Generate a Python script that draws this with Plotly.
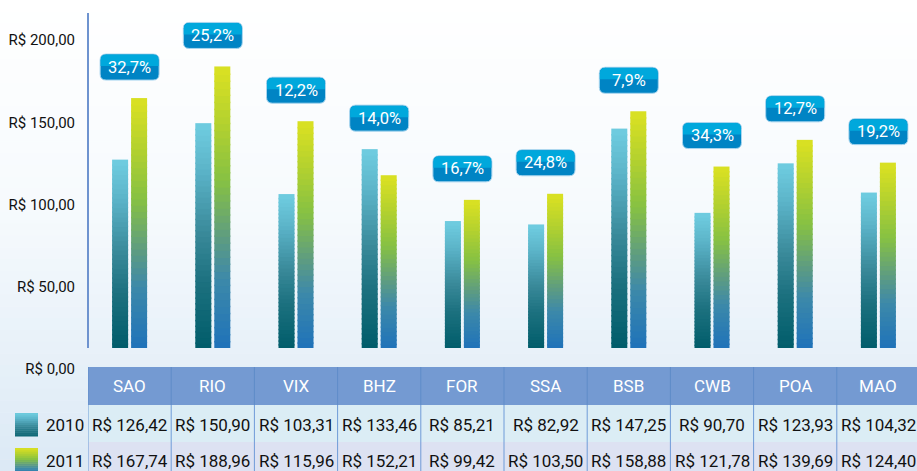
import plotly.graph_objects as go

# ---------------- data ----------------
categories = ["SAO", "RIO", "VIX", "BHZ", "FOR", "SSA", "BSB", "CWB", "POA", "MAO"]
years = ["2010", "2011"]
values_2010 = [126.42, 150.90, 103.31, 133.46, 85.21, 82.92, 147.25, 90.70, 123.93, 104.32]
values_2011 = [167.74, 188.96, 115.96, 152.21, 99.42, 103.50, 158.88, 121.78, 139.69, 124.40]
# bar heights as drawn in the reference picture (VIX / BHZ 2011 bars appear swapped there)
bars_2010 = [126.42, 150.90, 103.31, 133.46, 85.21, 82.92, 147.25, 90.70, 123.93, 104.32]
bars_2011 = [167.74, 188.96, 152.21, 115.96, 99.42, 103.50, 158.88, 121.78, 139.69, 124.40]
growth_labels = ["32,7%", "25,2%", "12,2%", "14,0%", "16,7%", "24,8%", "7,9%", "34,3%", "12,7%", "19,2%"]
ytick_values = [0, 50, 100, 150, 200]
ytick_labels = ["R$ 0,00", "R$ 50,00", "R$ 100,00", "R$ 150,00", "R$ 200,00"]

# ---------------- geometry / style ----------------
W, H = 917, 471
L, T, PB = 88, 13, 369          # plot area left, top, bottom (px)
BASE = 348                      # pixel row of bar baseline
BAR_PPU = 1.49                  # px per unit for bars
TICK_PPU = 329 / 200            # px per unit for tick labels
CAT_W = 83.2                    # px per category

FONT = "Roboto, Liberation Sans, sans-serif"

def py(p):
    return (PB - p) / (PB - T)

def px(p):
    return (p - L) / (W - L)

def hex2rgb(h):
    h = h.lstrip("#")
    return tuple(int(h[i:i + 2], 16) for i in (0, 2, 4))

def grad(stops, t):
    for (t0, c0), (t1, c1) in zip(stops, stops[1:]):
        if t <= t1:
            f = (t - t0) / (t1 - t0) if t1 > t0 else 0
            a, b = hex2rgb(c0), hex2rgb(c1)
            return "rgb(%d,%d,%d)" % tuple(round(a[i] + (b[i] - a[i]) * f) for i in range(3))
    return "rgb(%d,%d,%d)" % hex2rgb(stops[-1][1])

stops_2010 = [(0, "#005c6a"), (0.3, "#1c717f"), (0.52, "#3a8a9a"), (0.8, "#5cb4c9"), (1, "#6fcde0")]
stops_2011 = [(0, "#1e72ba"), (0.25, "#3d89a9"), (0.4, "#5f9d80"), (0.6, "#86c143"), (0.8, "#b3d12f"), (1, "#dbe122")]

fig = go.Figure()

# gradient bars drawn as stacked slices of each bar (each slice overlaps the one below by ~1.5px)
N = 40
OVL = 1.5 / BAR_PPU
bar_w = 16 / CAT_W
for bars, stops, off in [(bars_2010, stops_2010, -17.5 / CAT_W), (bars_2011, stops_2011, 1.5 / CAT_W)]:
    for k in range(N):
        ext = 0 if k == 0 else OVL
        fig.add_trace(go.Bar(
            x=categories,
            y=[v / N + ext for v in bars],
            base=[v * k / N - ext for v in bars],
            width=bar_w, offset=off,
            marker=dict(color=grad(stops, (k + 0.5) / N), line=dict(width=0)),
            showlegend=False, hoverinfo="skip",
        ))

# empty trace to carry the tick-label axis
fig.add_trace(go.Scatter(x=[], y=[], yaxis="y2", showlegend=False))

shapes = []
# page background gradient
NB = 40
for i in range(NB):
    p0, p1 = H * i / NB, H * (i + 1) / NB + 0.5
    shapes.append(dict(type="rect", xref="paper", yref="paper", layer="below",
                       x0=px(0), x1=px(W), y0=py(p1), y1=py(p0), line=dict(width=0),
                       fillcolor=grad([(0, "#ffffff"), (0.45, "#f6fafd"), (1, "#dbe9f5")], (i + 0.5) / NB)))

# axis line
shapes.append(dict(type="line", xref="paper", yref="paper", x0=0, x1=0, y0=py(BASE), y1=py(T),
                   line=dict(color="#6e93cf", width=2)))

# table
x_lo, x_hi = -0.5, len(categories) - 0.5
shapes.append(dict(type="rect", xref="x", yref="paper", x0=x_lo, x1=x_hi, y0=py(405), y1=py(367),
                   fillcolor="#749ad2", line=dict(width=0)))
shapes.append(dict(type="rect", xref="x", yref="paper", x0=x_lo, x1=x_hi, y0=py(442), y1=py(405),
                   fillcolor="#dbedf5", line=dict(width=0)))
shapes.append(dict(type="rect", xref="x", yref="paper", x0=x_lo, x1=x_hi, y0=py(H + 2), y1=py(442),
                   fillcolor="#dde2f2", line=dict(width=0)))
for i in range(len(categories) + 1):
    shapes.append(dict(type="line", xref="x", yref="paper", x0=i - 0.5, x1=i - 0.5, y0=py(405), y1=py(367),
                       line=dict(color="#5f8cc9", width=1)))
    shapes.append(dict(type="line", xref="x", yref="paper", x0=i - 0.5, x1=i - 0.5, y0=py(H + 2), y1=py(405),
                       line=dict(color="#6f9bd8", width=1)))

# legend squares
for yr, stops, (t0, t1) in [("2010", stops_2010, (413, 436)), ("2011", stops_2011, (448, 471))]:
    NS = 12
    for k in range(NS):
        a = t1 - (t1 - t0) * k / NS
        b = t1 - (t1 - t0) * (k + 1) / NS
        shapes.append(dict(type="rect", xref="paper", yref="paper", x0=px(15), x1=px(38),
                           y0=py(a + 0.5), y1=py(b), line=dict(width=0),
                           fillcolor=grad(stops, 0.15 + 0.85 * (k + 0.5) / NS)))

# growth label boxes
def rrect(x0, x1, y0, y1, r):
    return (f"M{x0 + r},{y0} L{x1 - r},{y0} Q{x1},{y0} {x1},{y0 + r} L{x1},{y1 - r} Q{x1},{y1} {x1 - r},{y1} "
            f"L{x0 + r},{y1} Q{x0},{y1} {x0},{y1 - r} L{x0},{y0 + r} Q{x0},{y0} {x0 + r},{y0} Z")

def rtop(x0, x1, ym, y1, r):
    return f"M{x0},{ym} L{x1},{ym} L{x1},{y1 - r} Q{x1},{y1} {x1 - r},{y1} L{x0 + r},{y1} Q{x0},{y1} {x0},{y1 - r} Z"

annotations = []
for i, lab in enumerate(growth_labels):
    top = max(bars_2010[i], bars_2011[i])
    common = dict(xref="x", yref="y", xsizemode="pixel", ysizemode="pixel", xanchor=i, yanchor=top)
    shapes.append(dict(type="path", path=rrect(-29.5, 29.5, 18, 44, 6), fillcolor="#0084c4",
                       line=dict(color="#a9d6ef", width=1), **common))
    shapes.append(dict(type="path", path=rtop(-29, 29, 32, 43.5, 5.5), fillcolor="#00a8dc",
                       line=dict(width=0), **common))
    annotations.append(dict(x=i, y=top, xref="x", yref="y", yshift=31, text=lab, showarrow=False,
                            xanchor="center", yanchor="middle",
                            font=dict(family=FONT, size=16.5, color="white")))

# table texts
fmt = lambda v: "R$ " + f"{v:.2f}".replace(".", ",")
for i, c in enumerate(categories):
    annotations.append(dict(x=i, y=py(386), xref="x", yref="paper", text=c, showarrow=False,
                            xanchor="center", yanchor="middle",
                            font=dict(family=FONT, size=17, color="white")))
    annotations.append(dict(x=i, y=py(424.5), xref="x", yref="paper", text=fmt(values_2010[i]), showarrow=False,
                            xanchor="center", yanchor="middle",
                            font=dict(family=FONT, size=17, color="#111111")))
    annotations.append(dict(x=i, y=py(461), xref="x", yref="paper", text=fmt(values_2011[i]), showarrow=False,
                            xanchor="center", yanchor="middle",
                            font=dict(family=FONT, size=17, color="#111111")))
for yr, yc in zip(years, [424.5, 461]):
    annotations.append(dict(x=px(44), y=py(yc), xref="paper", yref="paper", xanchor="left", yanchor="middle",
                            text=yr, showarrow=False, font=dict(family=FONT, size=17, color="#111111")))

fig.update_layout(
    width=W, height=H,
    margin=dict(l=L, r=0, t=T, b=H - PB, pad=0, autoexpand=False),
    paper_bgcolor="white", plot_bgcolor="rgba(0,0,0,0)",
    barmode="overlay",
    showlegend=False,
    xaxis=dict(type="category", range=[-0.5, -0.5 + (W - L) / CAT_W], showticklabels=False,
               showgrid=False, zeroline=False, showline=False, fixedrange=True, automargin=False),
    yaxis=dict(range=[(BASE - PB) / BAR_PPU, (BASE - T) / BAR_PPU], visible=False, fixedrange=True,
               automargin=False),
    yaxis2=dict(overlaying="y", side="left", range=[0, (PB - T) / TICK_PPU],
                tickvals=ytick_values, ticktext=ytick_labels, showgrid=False, zeroline=False,
                showline=False, ticks="", ticklabelstandoff=12, automargin=False,
                tickfont=dict(family=FONT, size=15, color="#111111"), fixedrange=True),
    shapes=shapes, annotations=annotations,
)

fig.write_html("out.html")
